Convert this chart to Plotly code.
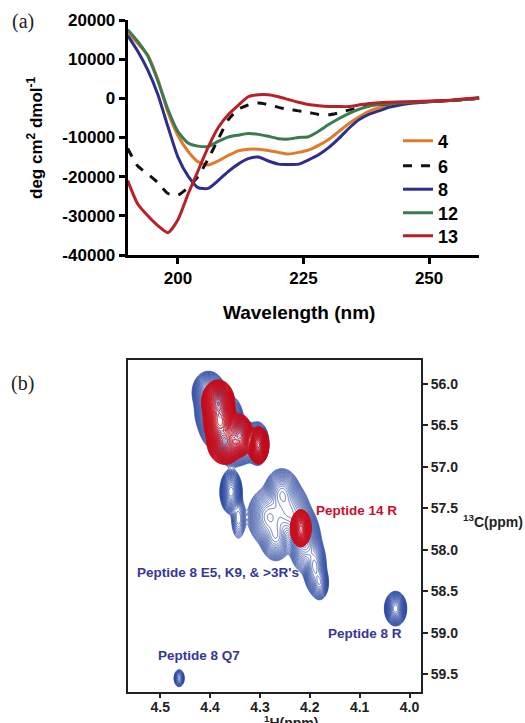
import numpy as np
import plotly.graph_objects as go

# ---------------- Panel (a): CD spectra ----------------
wavelength = [190, 192, 194, 196, 198, 200, 202, 204, 206, 208, 210, 212, 214, 216, 218, 220,
              222, 224, 226, 228, 230, 232, 234, 236, 238, 240, 242, 245, 250, 255, 260]

cd_4 = [16800, 14000, 11000, 4800, -3500, -9500, -13500, -16200, -17000, -16000, -14600, -13400,
        -13000, -13000, -13300, -13800, -14200, -13800, -13200, -12000, -10500, -8500, -6500,
        -4800, -3300, -2400, -1900, -1300, -900, -500, 0]
cd_6 = [-12800, -17300, -19300, -21500, -24300, -24700, -22800, -20000, -15500, -10500, -5500,
        -2800, -1700, -1200, -1600, -2300, -2800, -3200, -3600, -4100, -4200, -3700, -3000,
        -2400, -1900, -1600, -1400, -1100, -800, -500, 0]
cd_8 = [16000, 12000, 7200, 1000, -7200, -15000, -19800, -22800, -23000, -21000, -18700, -16800,
        -15400, -15000, -16000, -16800, -16900, -16800, -15700, -14400, -12600, -10300, -7700,
        -5500, -4100, -3200, -2300, -1500, -900, -500, 0]
cd_12 = [17500, 14500, 10800, 4500, -2800, -8500, -11400, -12200, -12300, -11000, -9900, -9400,
         -9000, -9200, -9700, -10300, -10400, -10000, -9800, -8400, -6700, -5200, -3900, -2800,
         -2000, -1600, -1300, -1100, -800, -500, 0]
cd_13 = [-21000, -27000, -30000, -32500, -34300, -31000, -24500, -18500, -12500, -7500, -4200,
         -1800, 400, 900, 900, 400, -300, -1000, -1600, -1900, -2100, -2100, -2100, -1700, -1300,
         -1100, -1000, -900, -700, -400, 200]

series_names = ["4", "6", "8", "12", "13"]
series_vals = [cd_4, cd_6, cd_8, cd_12, cd_13]
series_colors = ["#e07b2a", "#111111", "#2e2e8c", "#3c7a52", "#b8202a"]
series_dash = ["solid", "dash", "solid", "solid", "solid"]

cd_xticks = [200, 225, 250]
cd_yticks = [20000, 10000, 0, -10000, -20000, -30000, -40000]
cd_yticklabels = ["20000", "10000", "0", "-10000", "-20000", "-30000", "-40000"]

# ---------------- Panel (b): HSQC peaks (1H ppm, 13C ppm, sigma H, sigma C, amplitude) --------
p8_h = [4.403, 4.395, 4.385, 4.365, 4.355, 4.335, 4.305,
        4.358, 4.343,
        4.256, 4.282, 4.240, 4.210, 4.190, 4.268, 4.218, 4.180,
        4.028, 4.462]
p8_c = [56.10, 56.32, 56.50, 56.45, 56.70, 56.70, 56.72,
        57.30, 57.62,
        57.32, 57.60, 57.55, 57.90, 58.20, 57.85, 57.75, 58.40,
        58.71, 59.55]
p8_sh = [0.011, 0.012, 0.012, 0.011, 0.012, 0.011, 0.008,
         0.0075, 0.007,
         0.013, 0.016, 0.015, 0.012, 0.009, 0.012, 0.010, 0.007,
         0.0075, 0.0045]
p8_sc = [0.085, 0.11, 0.10, 0.11, 0.10, 0.09, 0.09,
         0.09, 0.12,
         0.11, 0.13, 0.13, 0.14, 0.13, 0.11, 0.10, 0.08,
         0.07, 0.045]
p8_amp = [1.0, 1.0, 1.0, 0.8, 1.0, 0.8, 0.8,
          1.0, 0.08,
          0.45, 0.4, 0.4, 0.4, 0.3, 0.3, 0.7, 0.25,
          1.0, 0.15]

p14_h = [4.384, 4.380, 4.370, 4.340, 4.303, 4.218]
p14_c = [56.22, 56.45, 56.70, 56.62, 56.74, 57.74]
p14_sh = [0.011, 0.011, 0.012, 0.009, 0.007, 0.007]
p14_sc = [0.09, 0.10, 0.09, 0.09, 0.075, 0.075]
p14_amp = [1.0, 1.0, 1.0, 0.6, 1.0, 1.0]

h_ticks = [4.5, 4.4, 4.3, 4.2, 4.1, 4.0]
h_ticklabels = ["4.5", "4.4", "4.3", "4.2", "4.1", "4.0"]
c_ticks = [56.0, 56.5, 57.0, 57.5, 58.0, 58.5, 59.0, 59.5]
c_ticklabels = ["56.0", "56.5", "57.0", "57.5", "58.0", "58.5", "59.0", "59.5"]

H_RANGE = [4.564, 3.977]
C_RANGE = [59.72, 55.71]

hx = np.linspace(3.977, 4.564, 360)
cy = np.linspace(55.71, 59.72, 520)
HH, CC = np.meshgrid(hx, cy)


def spectrum(hs, cs, shs, scs, amps):
    z = np.zeros_like(HH)
    for h0, c0, sh, sc, a in zip(hs, cs, shs, scs, amps):
        z += a * np.exp(-((HH - h0) ** 2) / (2 * sh ** 2) - ((CC - c0) ** 2) / (2 * sc ** 2))
    return np.log(z + 1e-12)


z8 = spectrum(p8_h, p8_c, p8_sh, p8_sc, p8_amp)
z14 = spectrum(p14_h, p14_c, p14_sh, p14_sc, p14_amp)

FONT = "Liberation Sans"
W, H = 525, 723


def px(x):
    return x / W


def py(y):
    return 1 - y / H


fig = go.Figure()

legend_ids = ["legend", "legend2", "legend3", "legend4", "legend5"]
legend_y = [141, 166, 189.5, 213, 236]
for name, vals, col, dash, lid in zip(series_names, series_vals, series_colors,
                                       series_dash, legend_ids):
    fig.add_trace(go.Scatter(
        x=wavelength, y=vals, mode="lines", name=name, legend=lid,
        line=dict(color=col, width=3, dash=dash, shape="spline", smoothing=0.6),
        xaxis="x", yaxis="y"))

blue = "#2a47a0"
red = "#c8101e"
fig.add_trace(go.Contour(
    x=hx, y=cy, z=z8, xaxis="x2", yaxis="y2", showscale=False, showlegend=False,
    contours=dict(coloring="lines", start=-4.5, end=1.0, size=0.18),
    line=dict(width=0.7), colorscale=[[0, blue], [1, blue]], hoverinfo="skip"))
fig.add_trace(go.Contour(
    x=hx, y=cy, z=z14, xaxis="x2", yaxis="y2", showscale=False, showlegend=False,
    contours=dict(coloring="lines", start=-4.5, end=1.0, size=0.12),
    line=dict(width=0.9), colorscale=[[0, red], [1, red]], hoverinfo="skip"))

tickfont_a = dict(family=FONT, size=17, color="black", weight="bold")
tickfont_b = dict(family=FONT, size=14, color="#222222", weight="bold")

layout_legends = {}
for lid, ly in zip(legend_ids, legend_y):
    layout_legends[lid] = dict(
        x=px(398), y=py(ly), xanchor="left", yanchor="middle",
        font=dict(family=FONT, size=18, color="black", weight="bold"),
        bgcolor="rgba(0,0,0,0)", itemwidth=30)

fig.update_layout(
    width=W, height=H, margin=dict(l=0, r=0, t=0, b=0, autoexpand=False),
    paper_bgcolor="white", plot_bgcolor="white",
    showlegend=True,
    xaxis=dict(domain=[px(127.7), px(479.3)], range=[190, 260], tickvals=cd_xticks,
               ticks="outside", ticklen=6, tickwidth=2.5, tickcolor="black",
               showline=True, linewidth=3, linecolor="black", showgrid=False, zeroline=False,
               tickfont=tickfont_a, anchor="y", automargin=False),
    yaxis=dict(domain=[py(255), py(20)], range=[-40000, 20000], tickvals=cd_yticks,
               ticktext=cd_yticklabels, ticks="outside", ticklen=6, tickwidth=2.5,
               tickcolor="black", showline=True, linewidth=3, linecolor="black",
               showgrid=False, zeroline=False, tickfont=tickfont_a, anchor="x",
               automargin=False),
    xaxis2=dict(domain=[px(128.3), px(421)], range=H_RANGE, tickvals=h_ticks,
                ticktext=h_ticklabels, ticks="outside", ticklen=4, tickwidth=1.5,
                tickcolor="#222222", showline=True, linewidth=2, linecolor="#222222",
                mirror=True, showgrid=False, zeroline=False, tickfont=tickfont_b,
                anchor="y2", automargin=False, ticklabelstandoff=-3),
    yaxis2=dict(domain=[py(692.3), py(360)], range=C_RANGE, tickvals=c_ticks,
                ticktext=c_ticklabels, side="right", ticks="outside", ticklen=5,
                tickwidth=1.5, tickcolor="#222222", showline=True, linewidth=2,
                linecolor="#222222", mirror=True, showgrid=False, zeroline=False,
                tickfont=tickfont_b, anchor="x2", automargin=False),
    **layout_legends,
)


def note(text, x, y, size, color, family=FONT, weight="bold", angle=0, ref="paper"):
    return dict(text=text, x=x, y=y, xref=ref if ref == "paper" else "x2",
                yref=ref if ref == "paper" else "y2", showarrow=False,
                xanchor="center", yanchor="middle", textangle=angle,
                font=dict(family=family, size=size, color=color, weight=weight))


ann = [
    note("(a)", px(23), py(21), 20, "#222", family="Liberation Serif", weight="normal"),
    note("(b)", px(22), py(383), 20, "#222", family="Liberation Serif", weight="normal"),
    note("deg cm<sup>2</sup> dmol<sup>-1</sup>", px(35), py(138), 17, "black", angle=-90),
    note("Wavelength (nm)", px(299), py(312), 19, "black"),
    note("<sup>13</sup>C(ppm)", px(493), py(521), 14, "#222"),
    note("<sup>1</sup>H(ppm)", px(291), py(722), 14, "#222"),
]
navy = "#36369a"
ann += [
    note("Peptide 14 R", 4.1057, 57.53, 13.5, "#c8102e", ref="data"),
    note("Peptide 8 E5, K9, &amp; >3R's", 4.384, 58.275, 13.5, navy, ref="data"),
    note("Peptide 8 R", 4.0896, 59.016, 13.5, navy, ref="data"),
    note("Peptide 8 Q7", 4.423, 59.278, 13.5, navy, ref="data"),
]
fig.update_layout(annotations=ann)

fig.write_html("out.html", config={"displayModeBar": False},
               post_script="document.body.style.margin='0px';")
